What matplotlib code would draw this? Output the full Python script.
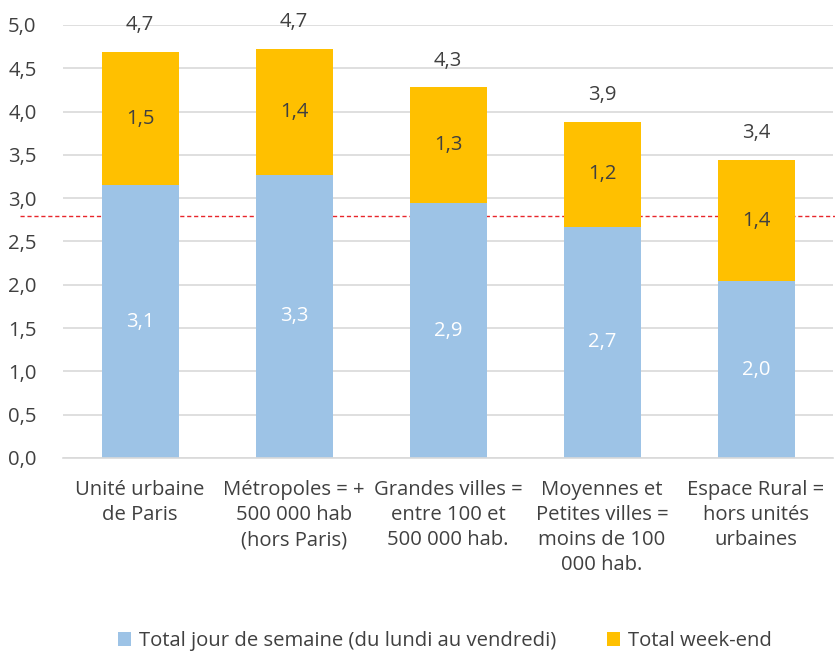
import matplotlib
matplotlib.use("Agg")
import matplotlib.pyplot as plt
import numpy as np

categories = ["Unité urbaine\nde Paris",
              "Métropoles = +\n500 000 hab\n(hors Paris)",
              "Grandes villes =\nentre 100 et\n500 000 hab.",
              "Moyennes et\nPetites villes =\nmoins de 100\n000 hab.",
              "Espace Rural =\nhors unités\nurbaines"]
weekday = [3.15, 3.27, 2.94, 2.67, 2.04]
weekend = [1.54, 1.45, 1.34, 1.21, 1.40]
weekday_labels = ["3,1", "3,3", "2,9", "2,7", "2,0"]
weekend_labels = ["1,5", "1,4", "1,3", "1,2", "1,4"]
total_labels = ["4,7", "4,7", "4,3", "3,9", "3,4"]
reference_line = 2.79
yticks = [0, 0.5, 1.0, 1.5, 2.0, 2.5, 3.0, 3.5, 4.0, 4.5, 5.0]
series_names = ["Total jour de semaine (du lundi au vendredi)", "Total week-end"]

plt.rcParams['font.family'] = ['Open Sans', 'DejaVu Sans']
txt = "#404040"
blue = "#9DC3E6"
gold = "#FFC000"
fs = 14.6

fig = plt.figure(figsize=(8.35, 6.54), dpi=100)
ax = fig.add_axes([63/835, 1-458/654, 770/835, (458-25)/654])

x = np.arange(len(categories))

ax.axhline(reference_line, xmin=-43/770, xmax=1.01, color='#E8262B', linestyle=(0, (3, 2)),
           linewidth=1.0, clip_on=False, zorder=1.5)

b1 = ax.bar(x, weekday, width=0.5, color=blue, label=series_names[0], zorder=2)
b2 = ax.bar(x, weekend, width=0.5, bottom=weekday, color=gold, label=series_names[1], zorder=2)

for i in range(len(x)):
    ax.text(x[i], weekday[i]/2, weekday_labels[i], ha='center', va='center', color='white', fontsize=fs, zorder=3)
    ax.text(x[i], weekday[i] + weekend[i]/2, weekend_labels[i], ha='center', va='center', color=txt, fontsize=fs, zorder=3)
    ax.text(x[i], weekday[i] + weekend[i] + 0.31, total_labels[i], ha='center', va='center', color=txt, fontsize=fs, zorder=3)

ax.set_xlim(-0.5, len(categories) - 0.5)
ax.set_ylim(0, 5.0)
ax.set_yticks(yticks)
ax.set_yticklabels([f"{v:.1f}".replace(".", ",") for v in yticks])
ax.yaxis.grid(True, color='#D9D9D9', linewidth=1.2, zorder=0)
ax.set_axisbelow(True)
for s in ['top', 'right', 'left']:
    ax.spines[s].set_visible(False)
ax.spines['bottom'].set_color('#D9D9D9')
ax.spines['bottom'].set_linewidth(1.2)
ax.tick_params(axis='y', length=0, labelsize=fs, labelcolor=txt, pad=19)
ax.tick_params(axis='x', length=0, labelsize=fs, labelcolor=txt, pad=16)
ax.set_xticks(x)
ax.set_xticklabels(categories, linespacing=1.33, va='top')

fig.legend(handles=[b1, b2], labels=series_names, loc='center', bbox_to_anchor=(0.533, 1-641/654),
           ncol=2, frameon=False, fontsize=fs, labelcolor=txt, handlelength=0.65, handleheight=0.65,
           handletextpad=0.4, columnspacing=2.5)

fig.savefig("out.png", dpi=100)
